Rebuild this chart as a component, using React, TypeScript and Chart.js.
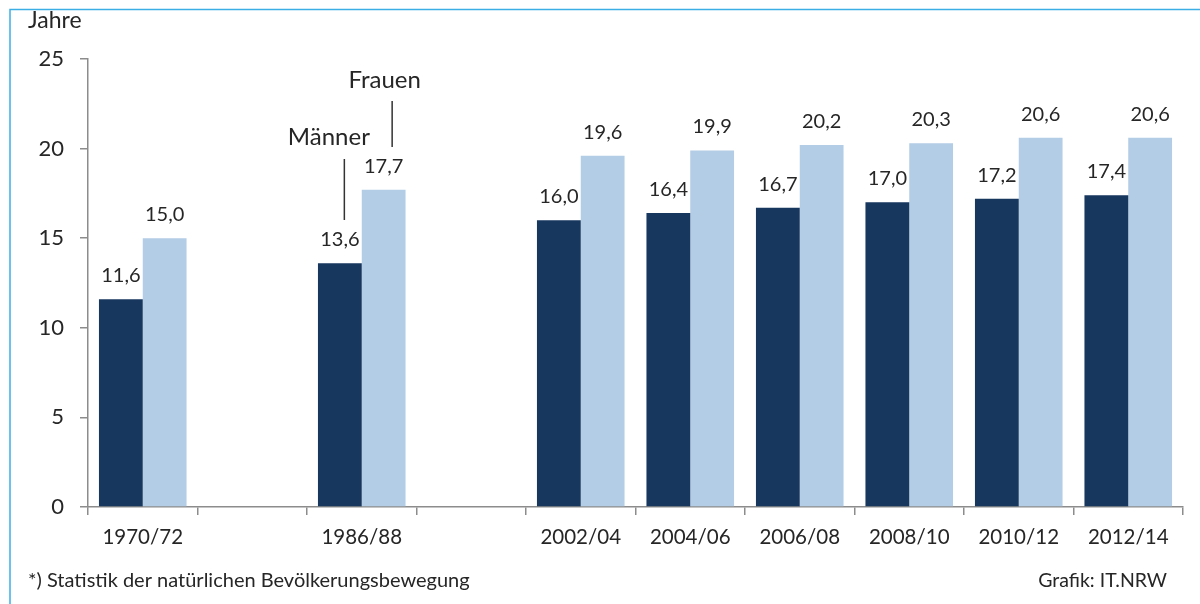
import React, { useEffect, useRef } from "react";
import { Chart, registerables } from "chart.js";

Chart.register(...registerables);

const categories = ["1970/72", "", "1986/88", "", "2002/04", "2004/06", "2006/08", "2008/10", "2010/12", "2012/14"];
const maenner = [11.6, null, 13.6, null, 16.0, 16.4, 16.7, 17.0, 17.2, 17.4];
const frauen = [15.0, null, 17.7, null, 19.6, 19.9, 20.2, 20.3, 20.6, 20.6];
const seriesNames = ["Männer", "Frauen"];
const yTicks = [0, 5, 10, 15, 20, 25];
const unitLabel = "Jahre";
const footnote = "*) Statistik der natürlichen Bevölkerungsbewegung";
const source = "Grafik: IT.NRW";

const FONT = "Lato, 'Open Sans', sans-serif";
const TEXT = "#262626";

const fmt = (v: number) => v.toFixed(1).replace(".", ",");

const decorPlugin = {
  id: "decor",
  afterDatasetsDraw(chart: any) {
    const ctx = chart.ctx;
    ctx.save();
    // value labels
    ctx.fillStyle = TEXT;
    ctx.font = `20px ${FONT}`;
    ctx.textAlign = "center";
    ctx.textBaseline = "alphabetic";
    chart.data.datasets.forEach((ds: any, di: number) => {
      const meta = chart.getDatasetMeta(di);
      meta.data.forEach((el: any, i: number) => {
        const v = ds.data[i];
        if (v === null || v === undefined) return;
        ctx.fillText(fmt(v), el.x, el.y - 17);
      });
    });
    // series annotations for the 1986/88 group
    const mEl = chart.getDatasetMeta(0).data[2];
    const fEl = chart.getDatasetMeta(1).data[2];
    ctx.strokeStyle = "#333";
    ctx.lineWidth = 1.5;
    ctx.beginPath();
    ctx.moveTo(mEl.x + 4.5, 159);
    ctx.lineTo(mEl.x + 4.5, 220);
    ctx.moveTo(fEl.x + 8.5, 101);
    ctx.lineTo(fEl.x + 8.5, 147);
    ctx.stroke();
    ctx.font = `24px ${FONT}`;
    ctx.textAlign = "center";
    ctx.fillText(seriesNames[0], mEl.x - 11, 145);
    ctx.fillText(seriesNames[1], fEl.x + 1, 88);
    // unit label
    ctx.textAlign = "left";
    ctx.font = `23px ${FONT}`;
    ctx.fillText(unitLabel, 28, 28);
    // footer
    ctx.font = `20px ${FONT}`;
    ctx.fillText(footnote, 28, 587);
    ctx.textAlign = "right";
    ctx.font = `19.5px ${FONT}`;
    ctx.fillText(source, 1167, 587);
    // frame
    ctx.strokeStyle = "#3BAEE6";
    ctx.lineWidth = 1.5;
    ctx.beginPath();
    ctx.moveTo(10, 604);
    ctx.lineTo(10, 9.5);
    ctx.lineTo(1200, 9.5);
    ctx.stroke();
    ctx.restore();
  },
};

export default function App() {
  const ref = useRef<HTMLCanvasElement>(null);
  useEffect(() => {
    if (!ref.current) return;
    const chart = new Chart(ref.current, {
      type: "bar",
      data: {
        labels: categories,
        datasets: [
          {
            label: seriesNames[0],
            data: maenner,
            backgroundColor: "#17375E",
            borderWidth: 0,
            categoryPercentage: 0.8,
            barPercentage: 1.0,
          },
          {
            label: seriesNames[1],
            data: frauen,
            backgroundColor: "#B3CDE6",
            borderWidth: 0,
            categoryPercentage: 0.8,
            barPercentage: 1.0,
          },
        ],
      },
      options: {
        animation: false,
        responsive: false,
        maintainAspectRatio: false,
        layout: { padding: { left: 0, right: 17, top: 59, bottom: 0 } },
        plugins: {
          legend: { display: false },
          tooltip: { enabled: false },
          title: { display: false },
        },
        scales: {
          x: {
            grid: {
              display: true,
              drawOnChartArea: false,
              drawTicks: true,
              tickLength: 8,
              color: "#8C8C8C",
              lineWidth: 1.5,
            },
            border: { display: true, color: "#8C8C8C", width: 1.5 },
            ticks: {
              color: TEXT,
              font: { family: FONT, size: 20.5 },
              padding: 10,
              maxRotation: 0,
              autoSkip: false,
            },
            afterFit: (scale: any) => {
              scale.height = 97;
            },
          },
          y: {
            min: 0,
            max: 25,
            afterBuildTicks: (scale: any) => {
              scale.ticks = yTicks.map((v) => ({ value: v }));
            },
            grid: {
              display: true,
              drawOnChartArea: false,
              drawTicks: true,
              tickLength: 8,
              color: "#8C8C8C",
              lineWidth: 1.5,
            },
            border: { display: true, color: "#8C8C8C", width: 1.5 },
            ticks: {
              color: TEXT,
              font: { family: FONT, size: 22 },
              padding: 16,
            },
            afterFit: (scale: any) => {
              scale.width = 88;
            },
          },
        },
      },
      plugins: [decorPlugin],
    });
    return () => chart.destroy();
  }, []);
  return (
    <div style={{ position: "absolute", left: 0, top: 0, width: 1200, height: 604, background: "#fff" }}>
      <canvas ref={ref} width={1200} height={604} style={{ display: "block", width: 1200, height: 604 }} />
    </div>
  );
}
